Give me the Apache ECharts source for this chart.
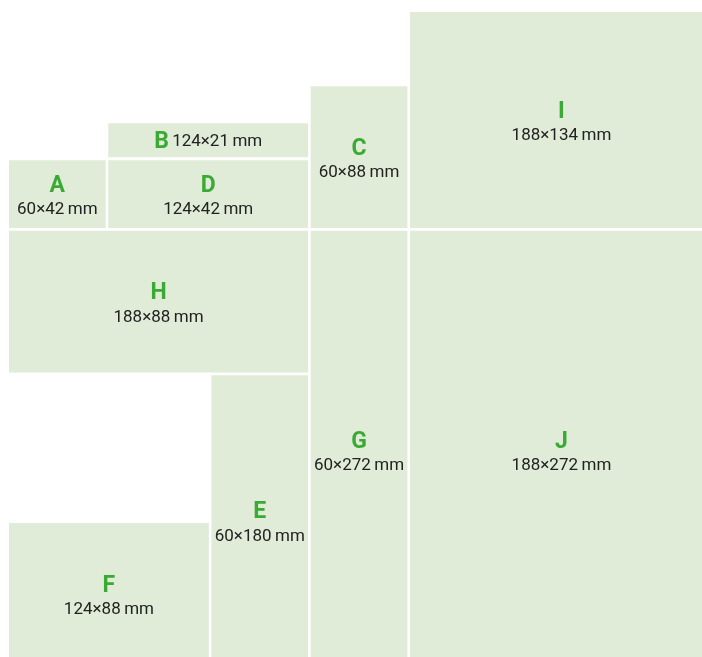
<!DOCTYPE html>
<html><head><meta charset="utf-8">
<script src="https://cdn.jsdelivr.net/npm/echarts@6/dist/echarts.min.js"></script>
<style>html,body{margin:0;padding:0;background:#fff}#c{width:702px;height:657px}</style>
</head><body><div id="c"></div>
<script>
// Format names and their nominal sizes (mm)
var names  = ['A','B','C','D','E','F','G','H','I','J'];
var sizeW  = [60,124,60,124,60,124,60,188,188,188];
var sizeH  = [42,21,88,42,180,88,272,88,134,272];
// Layout of each block on the sheet (mm, origin top-left)
var posX   = [0,61.6,187.2,61.6,125.6,0,187.2,0,248.8,248.8];
var posY   = [92,69,46,92,225.2,316.9,135.6,135.6,0,135.6];
var drawW  = [60,124,60,124,60,124,60,185.6,188,188];
var drawH  = [42,21,88,42,180,88,272,88,134,272];

var FONT = 'Roboto';
var data = names.map(function(n,i){ return [posX[i], posY[i], drawW[i], drawH[i], i]; });

var chart = echarts.init(document.getElementById('c'));
chart.setOption({
  animation:false,
  grid:{left:9, top:12, width:693, height:645},
  xAxis:{type:'value', min:0, max:430, show:false},
  yAxis:{type:'value', min:0, max:400, inverse:true, show:false},
  series:[{
    type:'custom',
    data:data,
    encode:{x:[0,2], y:[1,3]},
    renderItem:function(params, api){
      var i = api.value(4);
      var x0 = api.value(0), y0 = api.value(1), w = api.value(2), h = api.value(3);
      var p0 = api.coord([x0, y0]);
      var p1 = api.coord([x0 + w, y0 + h]);
      var cx = (p0[0] + p1[0]) / 2, cy = (p0[1] + p1[1]) / 2;
      var dims = sizeW[i] + '×' + sizeH[i] + '\u2009mm';
      var children = [{
        type:'rect',
        shape:{x:p0[0], y:p0[1], width:p1[0]-p0[0], height:p1[1]-p0[1]},
        style:{fill:'#e0ebd8'}
      }];
      if (names[i] === 'B') {
        children.push({type:'text', x:cx, y:cy+2, style:{
          text:'{l|' + names[i] + '} {d|' + dims + '}',
          align:'center', verticalAlign:'middle',
          rich:{l:{fontFamily:FONT, fontWeight:'bold', fontSize:23, fill:'#3aaa35'},
                d:{fontFamily:FONT, fontSize:17, fill:'#222'}}
        }});
      } else {
        children.push({type:'text', x:cx, y:cy-8, style:{
          text:names[i], align:'center', verticalAlign:'middle',
          fontFamily:FONT, fontWeight:'bold', fontSize:23, fill:'#3aaa35'}});
        children.push({type:'text', x:cx, y:cy+16, style:{
          text:dims, align:'center', verticalAlign:'middle',
          fontFamily:FONT, fontSize:17, fill:'#222'}});
      }
      return {type:'group', children:children};
    }
  }]
});
</script></body></html>
